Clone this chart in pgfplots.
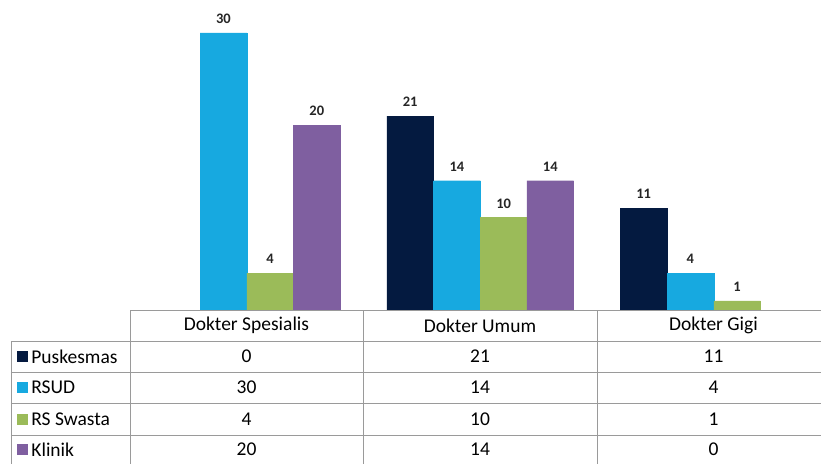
\documentclass[border=0pt]{standalone}
\usepackage{pgfplots}
\pgfplotsset{compat=1.18}
\usepackage{fontspec}
\setmainfont{Carlito}

\definecolor{cPusk}{HTML}{041A40}
\definecolor{cRsud}{HTML}{17A9E0}
\definecolor{cSwasta}{HTML}{9BBB59}
\definecolor{cKlinik}{HTML}{7F5FA0}
\definecolor{grid}{HTML}{9A9A9A}

\begin{document}
\begin{tikzpicture}
\begin{axis}[
    scale only axis,
    width=691pt, height=310pt,
    xmin=0, xmax=2.9593,
    ymin=0, ymax=33.57,
    hide axis,
    clip=false,
    ybar=0pt,
    bar width=46.7pt,
    /pgf/number format/assume math mode=true,
    nodes near coords,
    every node near coord/.append style={font=\bfseries\fontsize{14.5}{16}\selectfont, text=black!85, yshift=6pt},
    ]
  \addplot[fill=cPusk, draw=cPusk] coordinates {(1.5,21) (2.5,11)};
  \addplot[fill=cRsud, draw=cRsud] coordinates {(0.5,30) (1.5,14) (2.5,4)};
  \addplot[fill=cSwasta, draw=cSwasta] coordinates {(0.5,4) (1.5,10) (2.5,1)};
  \addplot[fill=cKlinik, draw=cKlinik] coordinates {(0.5,20) (1.5,14)};
\end{axis}

% data table below the bars
\begin{scope}[x=1pt, y=1pt, draw=grid, line width=0.8pt]
  \draw (0,0) -- (691,0);
  \foreach \yy in {-31,-62,-93,-125} \draw (-119,\yy) -- (691,\yy);
  \draw (0,0) -- (0,-154);
  \draw (233.5,0) -- (233.5,-154);
  \draw (467,0) -- (467,-154);
  \draw (-119,-31) -- (-119,-154);

  \begin{scope}[every node/.style={font=\fontsize{19.5}{22}\selectfont, text=black}]
    \node at (116.5,-15.5) {Dokter Spesialis};
    \node at (350,-15.5) {Dokter Umum};
    \node at (583.5,-15.5) {Dokter Gigi};

    \foreach \yy/\nm/\cc/\a/\b/\c in {
        -46.5/Puskesmas/cPusk/0/21/11,
        -77.5/RSUD/cRsud/30/14/4,
        -109/RS Swasta/cSwasta/4/10/1,
        -139.5/Klinik/cKlinik/20/14/0} {
      \fill[\cc] (-113,\yy-5.5) rectangle ++(11,11);
      \node[anchor=west, inner sep=0pt] at (-99,\yy) {\nm};
      \node at (116.5,\yy) {\a};
      \node at (350,\yy) {\b};
      \node at (583.5,\yy) {\c};
    }
  \end{scope}
\end{scope}

\pgfresetboundingbox
\path[use as bounding box] (-130pt,-154pt) rectangle (691pt,310pt);
\end{tikzpicture}
\end{document}
